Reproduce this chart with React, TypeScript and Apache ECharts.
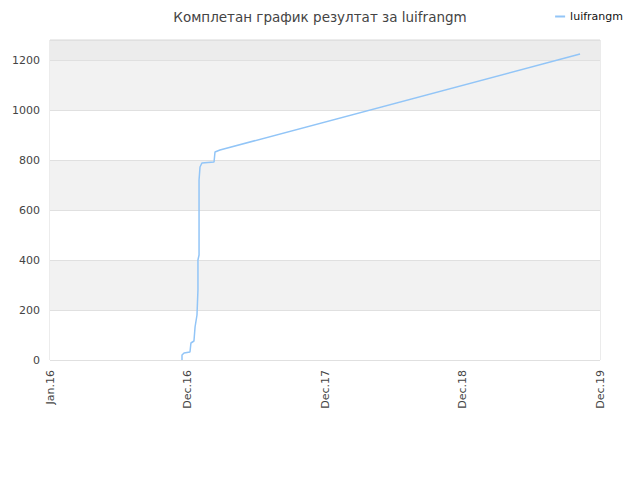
import { useEffect, useRef } from "react";
import * as echarts from "echarts";

// x in years counted from the first tick (Jan.16 = 0, Dec.16 = 1, ...)
const xTickLabels = ["Jan.16", "Dec.16", "Dec.17", "Dec.18", "Dec.19"];
const pointX = [
  0.96, 0.96, 0.975, 1.018, 1.025, 1.047, 1.055, 1.069, 1.076, 1.076, 1.084,
  1.084, 1.091, 1.105, 1.193, 1.2, 1.236, 3.855,
];
const pointY = [
  0, 20, 28, 32, 68, 76, 132, 180, 280, 400, 420, 720, 772, 788, 792, 832, 840,
  1224,
];
const bandColors = ["#ffffff", "#f2f2f2", "#ffffff", "#f2f2f2", "#ffffff", "#f2f2f2", "#ececec"];

export default function App() {
  const chartRef = useRef<HTMLDivElement | null>(null);

  useEffect(() => {
    if (!chartRef.current) return;
    const chart = echarts.init(chartRef.current, null, { renderer: "svg" });

    chart.setOption({
      animation: false,
      textStyle: { fontFamily: "DejaVu Sans" },
      title: {
        text: "Комплетан график резултат за luifrangm",
        left: "center",
        top: 5,
        textStyle: { fontSize: 13.5, fontWeight: "normal", color: "#444" },
      },
      legend: {
        right: 12,
        top: 6,
        itemWidth: 10,
        itemHeight: 2,
        icon: "rect",
        textStyle: { fontSize: 11, color: "#111" },
        data: ["luifrangm"],
      },
      grid: {
        left: 50,
        right: 40,
        top: 40,
        bottom: 120,
        show: true,
        borderColor: "#d8d8d8",
        borderWidth: 1,
      },
      xAxis: {
        type: "value",
        min: 0,
        max: 4,
        interval: 1,
        axisLine: { show: false },
        axisTick: { show: false },
        splitLine: { show: false },
        axisLabel: {
          rotate: 90,
          fontSize: 11,
          color: "#444",
          margin: 10,
          formatter: (v: number) => xTickLabels[Math.round(v)] ?? "",
        },
      },
      yAxis: {
        type: "value",
        min: 0,
        max: 1280,
        interval: 200,
        axisLine: { show: false },
        axisTick: { show: false },
        splitLine: { lineStyle: { color: "#e0e0e0" } },
        splitArea: { show: true, areaStyle: { color: bandColors } },
        axisLabel: {
          fontSize: 11,
          color: "#444",
          margin: 10,
          showMaxLabel: false,
          formatter: (v: number) => (v % 200 === 0 ? String(v) : ""),
        },
      },
      series: [
        {
          name: "luifrangm",
          type: "line",
          symbol: "none",
          color: "#92c5f7",
          lineStyle: { width: 1.5, color: "#92c5f7" },
          data: pointX.map((x, i) => [x, pointY[i]]),
        },
      ],
    });

    return () => chart.dispose();
  }, []);

  return (
    <div
      ref={chartRef}
      style={{ width: 640, height: 480, position: "absolute", left: 0, top: 0 }}
    />
  );
}
